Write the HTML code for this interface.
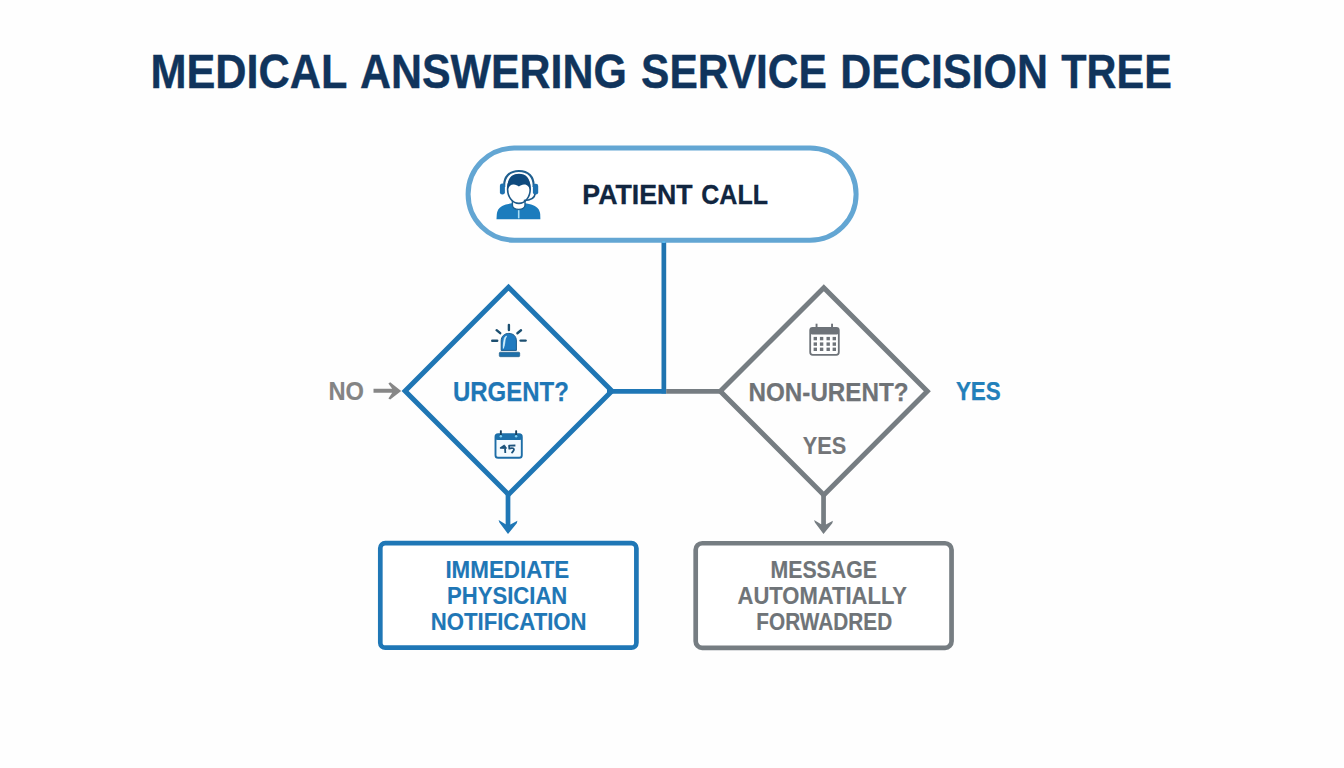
<!DOCTYPE html>
<html><head><meta charset="utf-8"><title>Medical Answering Service Decision Tree</title>
<style>
html,body{margin:0;padding:0;background:#fefefe;width:1344px;height:768px;overflow:hidden}
svg{position:absolute;left:0;top:0;display:block}
text{font-family:"Liberation Sans",sans-serif;font-weight:bold}
</style></head>
<body>
<svg width="1344" height="768" viewBox="0 0 1344 768">
<rect x="0" y="0" width="1344" height="768" fill="#fefefe"/>
<!-- Title -->

<!-- connectors (drawn under shapes) -->
<line x1="663.85" y1="240" x2="663.85" y2="393.6" stroke="#1f74b0" stroke-width="4.7"/>
<line x1="607" y1="391.3" x2="666.2" y2="391.3" stroke="#1f77b6" stroke-width="4.7"/>
<line x1="666.2" y1="391.3" x2="724" y2="391.3" stroke="#767d82" stroke-width="4.7"/>

<!-- Patient call pill -->
<rect x="468.1" y="148.05" width="388" height="92.2" rx="46.1" ry="46.1" fill="#ffffff" stroke="#63a6d3" stroke-width="5"/>
<line x1="663.85" y1="241" x2="663.85" y2="243" stroke="#5ab6ec" stroke-width="3"/>

<!-- headset person icon -->
<g>
  <path d="M496.5 219.2 L496.8 214 C497.4 209.2 500.4 206.2 505.8 204.6 L511.5 203.3 L525.5 203.3 L531.2 204.6 C536.6 206.2 539.6 209.2 540.2 214 L540.4 219.2 Z" fill="#1b7cbd"/>
  <path d="M512.4 200 L512.4 205.3 C512.6 208.3 515.2 209.4 518.7 209.4 C522.2 209.4 524.8 208.3 525 205.3 L525 200" fill="#fff" stroke="#1d5f8f" stroke-width="1.4"/>
  <path d="M518.7 210.2 L518.7 218.3" stroke="#a9def6" stroke-width="1.6"/>
  <ellipse cx="518.9" cy="189.2" rx="11.3" ry="14.2" fill="#fff" stroke="#1d5a8a" stroke-width="1.6"/>
  <path d="M507.6 190.2 C506.6 179 511.2 173.8 518.9 173.8 C526.6 173.8 531.2 179 530.2 190.2 C529.2 187 527.3 184.2 524 184.4 C521.9 184.5 520.3 185.4 518.9 186.6 C517.5 185.4 515.9 184.5 513.8 184.4 C510.5 184.2 508.6 187 507.6 190.2 Z" fill="#0f4a7e"/>
  <path d="M504.2 187 C503.6 176.5 509.8 171 518.9 171 C528 171 534.2 176.5 533.6 187" fill="none" stroke="#1f5f8f" stroke-width="2.2"/>
  <rect x="499.9" y="183.4" width="5" height="11.2" rx="2.3" fill="#1f72b0"/>
  <rect x="532.9" y="183.8" width="5.3" height="10.8" rx="2.3" fill="#1f72b0"/>
  <path d="M535 194 C534.8 198.2 530.8 200.3 523.8 200.5" fill="none" stroke="#1d5a8a" stroke-width="1.7"/>
</g>

<!-- left diamond -->
<path d="M508.5 287.3 L611.9 391 L508.5 494.5 L405.1 391 Z" fill="none" stroke="#1f76b4" stroke-width="5" stroke-linejoin="miter"/>

<!-- siren icon -->
<g>
  <path d="M501.2 350.4 L501.2 341 C501.2 336 504.6 333.4 508.8 333.4 C513 333.4 516.4 336 516.4 341 L516.4 350.4 Z" fill="#1f7ac0" stroke="#1a5b8c" stroke-width="1"/>
  <path d="M506.6 336.2 C505 336.6 504.2 337.8 504.1 339.6 C503.6 342.5 503.1 345.5 503.4 348.4 C504.4 346 504.9 342.8 505.1 339.8 C505.3 338.6 505.8 337.6 506.6 336.2 Z" fill="#d6f3fe" stroke="#d6f3fe" stroke-width="0.8"/>
  <rect x="499.3" y="352.2" width="20.4" height="4.5" rx="1" fill="#1d6fa9" stroke="#19567f" stroke-width="0.6"/>
  <g stroke="#1c4f70" stroke-width="2.4" stroke-linecap="round">
    <line x1="508.9" y1="325" x2="508.9" y2="330"/>
    <line x1="496.6" y1="330.2" x2="500.2" y2="333.2"/>
    <line x1="521" y1="330.3" x2="517.4" y2="333.2"/>
    <line x1="492.2" y1="340.8" x2="497.2" y2="340.8"/>
    <line x1="520.6" y1="340.6" x2="525.6" y2="340.6"/>
  </g>
</g>

<!-- blue calendar icon -->
<g>
  <rect x="495.5" y="434.3" width="26.3" height="23.5" rx="2.6" fill="#f4fbff" stroke="#1d6da6" stroke-width="1.9"/>
  <rect x="495.5" y="434.3" width="26.3" height="5.8" rx="2.2" fill="#1d71ab"/>
  <rect x="499.9" y="430.3" width="1.9" height="5.2" rx="0.6" fill="#173f5e"/>
  <rect x="515.2" y="430.3" width="1.9" height="5.2" rx="0.6" fill="#173f5e"/>
  <circle cx="500.85" cy="436.2" r="1.2" fill="#7fd3f7"/>
  <circle cx="516.15" cy="436.2" r="1.2" fill="#7fd3f7"/>
  <path d="M504.8 445.2 L500.7 447.9 L506.6 448 M504.9 445.8 L505.3 453" fill="none" stroke="#1b537c" stroke-width="1.8" stroke-linejoin="round"/>
  <path d="M515.4 445.5 L509.1 445.7 L509.3 448.6 C512.3 447.4 514.6 448.4 513.8 450.2 C513.3 451.4 512.4 452.4 511.5 453.1" fill="none" stroke="#1b537c" stroke-width="1.8" stroke-linejoin="round"/>
</g>

<!-- NO arrow -->
<path d="M373.5 388.7 L392.2 388.7 L388.4 383.6 L390.2 382.2 L401.2 391 L390.2 399.6 L388.4 398.4 L392.2 392.8 L373.5 392.8 Z" fill="#878787"/>

<!-- left down arrow -->
<rect x="505.65" y="494" width="4.7" height="31" fill="#1f77b6"/>
<path d="M498.6 520 L505.6 524.3 L510.4 524.4 L517.4 520.8 L516.8 523.2 L508 534 L499.4 522.6 Z" fill="#1f77b6"/>

<!-- right diamond -->
<path d="M823.8 287.7 L927.3 391.2 L823.8 494.9 L720.3 391.2 Z" fill="none" stroke="#767d82" stroke-width="5" stroke-linejoin="miter"/>

<!-- gray calendar icon -->
<g>
  <rect x="810.2" y="327.8" width="28.6" height="27" rx="2.5" fill="#fff" stroke="#6e7379" stroke-width="1.8"/>
  <rect x="810.2" y="327.8" width="28.6" height="6.8" rx="2" fill="#6e7379"/>
  <rect x="815.6" y="323.7" width="1.9" height="4.5" fill="#6e7379"/>
  <rect x="831.1" y="323.7" width="1.9" height="4.5" fill="#6e7379"/>
  <g fill="#6e7379">
    <rect x="813.6" y="336.9" width="3.4" height="3.4"/><rect x="819.9" y="336.9" width="3.4" height="3.4"/><rect x="826.5" y="336.9" width="3.4" height="3.4"/><rect x="832.6" y="336.9" width="3.4" height="3.4"/>
    <rect x="813.6" y="342.4" width="3.4" height="3.4"/><rect x="819.9" y="342.4" width="3.4" height="3.4"/><rect x="826.5" y="342.4" width="3.4" height="3.4"/><rect x="832.6" y="342.4" width="3.4" height="3.4"/>
    <rect x="813.6" y="347.6" width="3.4" height="3.4"/><rect x="819.9" y="347.6" width="3.4" height="3.4"/><rect x="826.5" y="347.6" width="3.4" height="3.4"/><rect x="832.6" y="347.6" width="3.4" height="3.4"/>
  </g>
</g>

<!-- right down arrow -->
<rect x="821.2" y="494" width="4.7" height="31" fill="#767d82"/>
<path d="M814.1 520 L821.1 524.3 L825.9 524.4 L832.9 520.8 L832.3 523.2 L823.5 534 L814.9 522.6 Z" fill="#767d82"/>

<!-- blue box -->
<rect x="380.3" y="543.15" width="256.1" height="104.55" rx="5" fill="#fff" stroke="#1f77b6" stroke-width="4.7"/>

<!-- gray box -->
<rect x="695.7" y="543.25" width="255.85" height="104.6" rx="6.5" fill="#fff" stroke="#767d82" stroke-width="4.7"/>
<!-- texts -->
<text x="150.5" y="87.5" font-size="47.4" fill="#10345c" stroke="#10345c" stroke-width="0.4" textLength="197.0" lengthAdjust="spacingAndGlyphs">MEDICAL</text>
<text x="360.0" y="87.5" font-size="47.4" fill="#10345c" stroke="#10345c" stroke-width="0.4" textLength="266.8" lengthAdjust="spacingAndGlyphs">ANSWERING</text>
<text x="641.1" y="87.5" font-size="47.4" fill="#10345c" stroke="#10345c" stroke-width="0.4" textLength="185.7" lengthAdjust="spacingAndGlyphs">SERVICE</text>
<text x="840.3" y="87.5" font-size="47.4" fill="#10345c" stroke="#10345c" stroke-width="0.4" textLength="207.6" lengthAdjust="spacingAndGlyphs">DECISION</text>
<text x="1061.3" y="87.5" font-size="47.4" fill="#10345c" stroke="#10345c" stroke-width="0.4" textLength="110.5" lengthAdjust="spacingAndGlyphs">TREE</text>
<text x="582.3" y="203.6" font-size="27.76" fill="#112640" stroke="#112640" stroke-width="0.3" textLength="110.3" lengthAdjust="spacingAndGlyphs">PATIENT</text>
<text x="701.3" y="203.6" font-size="27.76" fill="#112640" stroke="#112640" stroke-width="0.3" textLength="66.7" lengthAdjust="spacingAndGlyphs">CALL</text>
<text x="452.9" y="400.9" font-size="27.81" fill="#1f77b6" stroke="#1f77b6" stroke-width="0.25" textLength="115.9" lengthAdjust="spacingAndGlyphs">URGENT?</text>
<text x="328.5" y="399.6" font-size="24.91" fill="#848484" stroke="#848484" stroke-width="0.15" textLength="35.5" lengthAdjust="spacingAndGlyphs">NO</text>
<text x="748.5" y="400.6" font-size="26.41" fill="#6f7377" stroke="#6f7377" stroke-width="0.25" textLength="160.1" lengthAdjust="spacingAndGlyphs">NON-URENT?</text>
<text x="802.8" y="454.1" font-size="24.01" fill="#737578" stroke="#737578" stroke-width="0.15" textLength="43.5" lengthAdjust="spacingAndGlyphs">YES</text>
<text x="955.9" y="399.6" font-size="26.21" fill="#2280ba" stroke="#2280ba" stroke-width="0.25" textLength="44.9" lengthAdjust="spacingAndGlyphs">YES</text>
<text x="445.4" y="578.1" font-size="23.41" fill="#1f77b6" stroke="#1f77b6" stroke-width="0.15" textLength="123.9" lengthAdjust="spacingAndGlyphs">IMMEDIATE</text>
<text x="447.1" y="604.1" font-size="23.41" fill="#1f77b6" stroke="#1f77b6" stroke-width="0.15" textLength="120.2" lengthAdjust="spacingAndGlyphs">PHYSICIAN</text>
<text x="430.8" y="629.9" font-size="23.41" fill="#1f77b6" stroke="#1f77b6" stroke-width="0.15" textLength="155.8" lengthAdjust="spacingAndGlyphs">NOTIFICATION</text>
<text x="770.5" y="578.1" font-size="23.41" fill="#6f7478" stroke="#6f7478" stroke-width="0.15" textLength="106.4" lengthAdjust="spacingAndGlyphs">MESSAGE</text>
<text x="737.5" y="604.1" font-size="23.41" fill="#6f7478" stroke="#6f7478" stroke-width="0.15" textLength="169.5" lengthAdjust="spacingAndGlyphs">AUTOMATIALLY</text>
<text x="756.3" y="629.9" font-size="23.41" fill="#6f7478" stroke="#6f7478" stroke-width="0.15" textLength="135.9" lengthAdjust="spacingAndGlyphs">FORWADRED</text>
</svg>
</body></html>
